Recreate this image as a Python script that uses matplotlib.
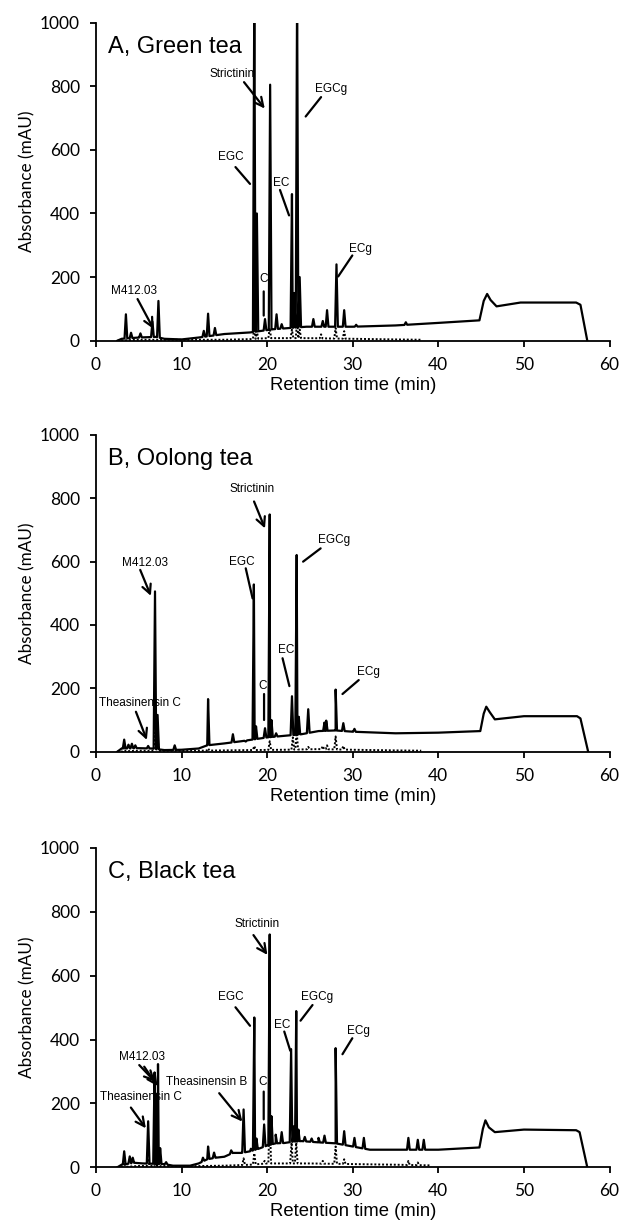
import numpy as np
import matplotlib
matplotlib.use("Agg")
import matplotlib.pyplot as plt

plt.rcParams['font.family'] = ['Liberation Sans', 'DejaVu Sans']

# ---- A, green tea: baseline breakpoints (min, mAU) and peak apexes ----
A_base_t = [2.5, 3, 5, 7, 8, 10, 12, 15, 18, 20.7, 24.6, 30, 35, 40, 44.8,
            45.3, 45.7, 46.1, 46.8, 49.6, 56.1, 56.6, 57.4]
A_base_v = [0, 6, 10, 12, 6, 4, 10, 21, 26, 36, 44, 44, 48, 56, 64,
            125, 147, 128, 108, 120, 120, 113, 0]
A_peak_t = [3.5, 4.1, 5.2, 6.6, 7.3, 12.6, 13.1, 13.9, 18.5, 18.8, 19.75,
            20.35, 21.1, 21.7, 22.9, 23.15, 23.5, 23.8, 25.4, 26.5, 27.0,
            28.1, 29.0, 30.4, 36.2]
A_peak_v = [83, 25, 23, 60, 125, 31, 85, 40, 1100, 400, 68,
            805, 83, 52, 461, 150, 1100, 200, 68, 62, 96,
            240, 96, 50, 58]
A_dot_base_t = [2.5, 5, 10, 15, 18, 20, 25, 30, 35, 38]
A_dot_base_v = [0, 3, 3, 3, 5, 8, 8, 6, 4, 3]
A_dot_peak_t = [18.5, 18.8, 20.3, 22.9, 23.5, 23.8, 26.3, 28.0, 29.0]
A_dot_peak_v = [45, 30, 40, 35, 60, 35, 20, 40, 30]

# ---- B, oolong tea ----
B_base_t = [2.5, 3, 5, 6.5, 8, 10, 12, 13, 15, 17, 18, 20, 22, 24, 26, 28,
            30, 35, 40, 44.9, 45.3, 45.6, 46.0, 46.6, 50, 56.2, 56.6, 57.5]
B_base_v = [0, 10, 11, 10, 5, 6, 10, 20, 26, 33, 37, 45, 50, 55, 65, 67,
            63, 58, 60, 65, 120, 142, 125, 102, 112, 112, 105, 0]
B_peak_t = [3.3, 3.8, 4.2, 4.6, 6.1, 6.9, 7.2, 9.2, 13.1, 16.0, 17.5, 18.45,
            18.7, 19.75, 20.3, 20.5, 21.05, 22.9, 23.45, 23.7, 24.8, 26.7,
            26.9, 28.0, 28.9, 30.2]
B_peak_v = [38, 22, 25, 20, 18, 506, 116, 20, 166, 55, 32, 528,
            80, 74, 749, 100, 58, 175, 621, 110, 134, 92,
            98, 196, 90, 72]
B_dot_base_t = [2.5, 5, 8, 12, 15, 18, 22, 26, 30, 35, 38]
B_dot_base_v = [0, 3, 3, 3, 4, 5, 6, 8, 6, 4, 3]
B_dot_peak_t = [3.3, 6.9, 7.2, 13.1, 18.5, 20.3, 23.0, 23.45, 24.8, 26.5,
                27.0, 28.0, 28.9]
B_dot_peak_v = [12, 60, 40, 10, 18, 33, 45, 65, 15, 18, 20, 48, 18]

# ---- C, black tea ----
C_base_t = [2.5, 3, 4.5, 5.5, 8, 9, 11, 12, 13, 14, 15, 16, 17, 18, 19, 20,
            21, 22, 23, 24, 26, 28, 30, 32, 40, 44.8, 45.2, 45.5, 45.9, 46.6,
            50, 56.1, 56.5, 57.4]
C_base_v = [0, 8, 14, 12, 10, 5, 5, 12, 25, 30, 33, 45, 45, 50, 58, 68,
            75, 76, 80, 82, 78, 75, 65, 55, 55, 62, 120, 147, 125, 110,
            118, 116, 110, 0]
C_peak_t = [3.3, 3.95, 4.3, 6.1, 6.85, 7.05, 7.25, 7.5, 8.2, 12.5, 13.1,
            13.8, 15.8, 17.25, 18.1, 18.5, 18.75, 19.65, 20.3, 20.5, 21.0,
            21.7, 22.8, 23.1, 23.4, 23.65, 24.4, 25.2, 26.0, 26.7, 28.0,
            29.0, 30.2, 31.3, 36.5, 37.6, 38.3]
C_peak_v = [50, 34, 30, 144, 297, 230, 323, 60, 16, 30, 65,
            46, 53, 181, 58, 469, 90, 134, 729, 160, 102,
            110, 370, 128, 489, 118, 95, 90, 92, 99, 373,
            113, 92, 92, 92, 86, 86]
C_dot_base_t = [2.5, 5, 8, 10, 15, 18, 20, 25, 30, 35, 39]
C_dot_base_v = [0, 4, 4, 3, 5, 8, 12, 12, 10, 8, 6]
C_dot_peak_t = [3.3, 6.1, 7.0, 7.3, 17.25, 18.5, 19.7, 20.3, 22.85, 23.4,
                26.5, 28.0, 29.0, 36.5, 37.6]
C_dot_peak_v = [15, 25, 60, 45, 28, 44, 20, 155, 78, 78, 20, 65, 25, 20, 15]

titles = ["A, Green tea", "B, Oolong tea", "C, Black tea"]

# annotations: label, text position, line start, line end, arrow head?
A_notes = [("Strictinin", (15.95, 838), (17.3, 813), (19.72, 730), True),
           ("EGCg", (27.5, 790), (26.3, 766), (24.5, 705), False),
           ("EGC", (15.7, 577), (16.3, 546), (18.0, 493), False),
           ("EC", (21.6, 495), (21.5, 474), (22.56, 394), False),
           ("ECg", (30.9, 289), (29.95, 268), (28.3, 202), False),
           ("C", (19.6, 194), (19.6, 155), (19.6, 79), False),
           ("M412.03", (4.47, 157), (4.86, 131), (6.73, 37), True)]
B_notes = [("Strictinin", (18.2, 828), (18.47, 790), (19.75, 705), True),
           ("EGCg", (27.8, 668), (26.25, 642), (24.2, 600), False),
           ("EGC", (17.0, 600), (17.5, 579), (18.3, 484), False),
           ("M412.03", (5.76, 595), (5.17, 574), (6.42, 492), True),
           ("EC", (22.2, 321), (21.8, 295), (22.6, 207), False),
           ("ECg", (31.8, 250), (30.7, 226), (28.8, 182), False),
           ("C", (19.45, 207), (19.64, 182), (19.64, 100), False),
           ("Theasinensin C", (5.17, 153), (4.67, 126), (5.95, 37), True)]
C_notes = [("Strictinin", (18.87, 762), (18.4, 727), (20.03, 665), True),
           ("EGCg", (25.8, 532), (25.3, 508), (23.9, 459), False),
           ("EGC", (15.7, 532), (16.3, 501), (18.0, 443), False),
           ("EC", (21.7, 446), (22.0, 425), (22.7, 365), False),
           ("ECg", (30.7, 428), (29.95, 404), (28.8, 354), False),
           ("M412.03", (5.33, 344), (5.06, 320), (6.9, 268), True),
           ("", None, (5.64, 315), (7.2, 254), True),
           ("Theasinensin B", (12.95, 268), (14.4, 232), (17.1, 143), True),
           ("C", (19.5, 268), (19.6, 237), (19.6, 150), False),
           ("Theasinensin C", (5.25, 219), (4.08, 187), (5.83, 122), True)]


def trace(base_t, base_v, peak_t, peak_v, w=0.16):
    # polyline through baseline breakpoints plus a narrow spike per peak
    pk_t = np.array(peak_t)
    feet = np.concatenate([pk_t - w, pk_t + w])
    t = np.concatenate([base_t, pk_t, feet])
    v = np.concatenate([base_v, peak_v, np.interp(feet, base_t, base_v)])
    o = np.argsort(t, kind='stable')
    return t[o], v[o]


panels = [
    (A_base_t, A_base_v, A_peak_t, A_peak_v,
     A_dot_base_t, A_dot_base_v, A_dot_peak_t, A_dot_peak_v, A_notes),
    (B_base_t, B_base_v, B_peak_t, B_peak_v,
     B_dot_base_t, B_dot_base_v, B_dot_peak_t, B_dot_peak_v, B_notes),
    (C_base_t, C_base_v, C_peak_t, C_peak_v,
     C_dot_base_t, C_dot_base_v, C_dot_peak_t, C_dot_peak_v, C_notes),
]
boxes = [[0.154, 0.7221, 0.8244, 0.2594],
         [0.154, 0.3869, 0.8244, 0.2583],
         [0.154, 0.0479, 0.8244, 0.2605]]

fig = plt.figure(figsize=(6.23, 12.26), dpi=100)

for i, p in enumerate(panels):
    ax = fig.add_axes(boxes[i])
    t, v = trace(p[0], p[1], p[2], p[3])
    ax.plot(t, v, color='black', lw=1.6, zorder=3)
    td, vd = trace(p[4], p[5], p[6], p[7])
    ax.plot(td, vd, color='black', lw=1.4, ls=(0, (1, 1)), zorder=3)

    for label, xy_text, start, end, head in p[8]:
        if label:
            ax.text(xy_text[0], xy_text[1], label, ha='center', va='center',
                    fontsize=8.5, zorder=1)
        ax.annotate('', xy=end, xytext=start, zorder=2,
                    arrowprops=dict(arrowstyle='->' if head else '-',
                                    lw=1.6, color='black',
                                    shrinkA=0, shrinkB=0, mutation_scale=16))

    ax.text(1.4, 924, titles[i], fontsize=17, ha='left', va='center', zorder=1)

    ax.set_xlim(0, 60)
    ax.set_ylim(0, 1000)
    ax.set_xticks(np.arange(0, 61, 10))
    ax.set_yticks(np.arange(0, 1001, 200))
    for s in ['top', 'right']:
        ax.spines[s].set_visible(False)
    for s in ['left', 'bottom']:
        ax.spines[s].set_linewidth(1.3)
    ax.tick_params(direction='out', length=4.5, width=1.3, pad=7,
                   labelsize=12.5)
    for lab in ax.get_xticklabels() + ax.get_yticklabels():
        lab.set_family(['Lato', 'DejaVu Sans'])
    ax.set_xlabel("Retention time (min)", fontsize=13.3, labelpad=3)
    ax.set_ylabel("Absorbance (mAU)", fontsize=12.3, family=['Lato', 'DejaVu Sans'],
                  labelpad=3)

fig.savefig("out.png", dpi=100)
